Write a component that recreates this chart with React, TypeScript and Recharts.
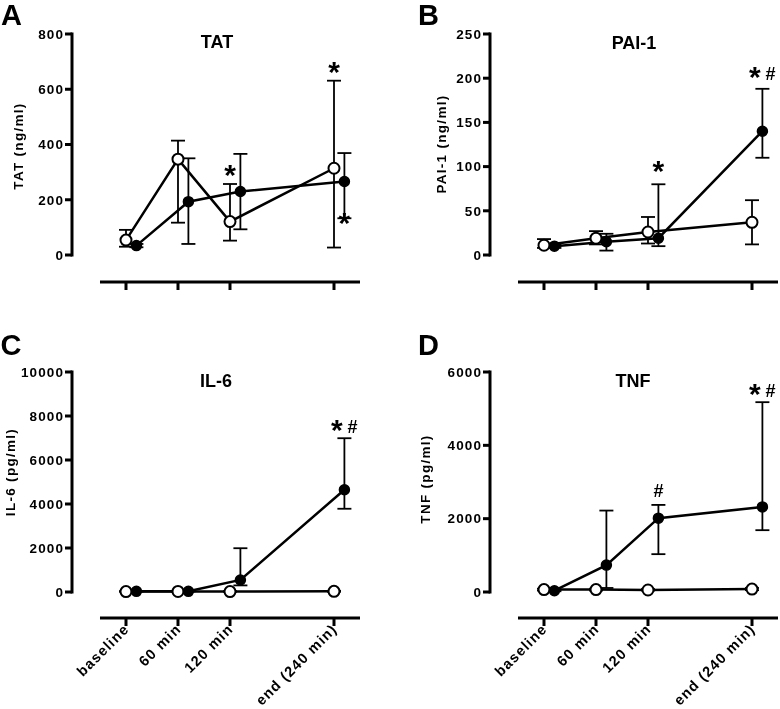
import React from "react"
import { ComposedChart, Line, XAxis, YAxis, ErrorBar, ReferenceLine, ReferenceDot } from "recharts"

const FONT = "'Liberation Sans', Arial, Helvetica, sans-serif"

// time points in minutes, filled symbols are nudged right a little
const timepoints = [0, 60, 120, 240]
const timeLabels = ["baseline", "60 min", "120 min", "end (240 min)"]
const SHIFT = 12

// TAT (ng/ml)
const tatTicks = [0, 200, 400, 600, 800]
const tatOpen = [54, 347, 121, 314]
const tatOpenLo = [30, 117, 52, 27]
const tatOpenHi = [91, 414, 257, 631]
const tatFilled = [34, 193, 230, 266]
const tatFilledLo = [28, 40, 93, 133]
const tatFilledHi = [40, 350, 366, 369]
const tatMarks = [
  { t: 120, side: "open", v: 297, s: "*" },
  { t: 240, side: "open", v: 670, s: "*" },
  { t: 240, side: "filled", v: 123, s: "*" },
]

// PAI-1 (ng/ml)
const paiTicks = [0, 50, 100, 150, 200, 250]
const paiOpen = [11, 19, 26, 37]
const paiOpenLo = [8, 12, 13, 12]
const paiOpenHi = [18, 27, 43, 62]
const paiFilled = [10, 15, 19, 140]
const paiFilledLo = [8, 5, 10, 110]
const paiFilledHi = [12, 24, 80, 188]
const paiMarks = [
  { t: 120, side: "filled", v: 97, s: "*" },
  { t: 240, side: "filled", v: 204, s: "*#" },
]

// IL-6 (pg/ml)
const il6Ticks = [0, 2000, 4000, 6000, 8000, 10000]
const il6Open = [20, 25, 20, 30]
const il6OpenLo = [10, 10, 10, 10]
const il6OpenHi = [40, 40, 40, 50]
const il6Filled = [30, 30, 547, 4650]
const il6FilledLo = [20, 20, 300, 3784]
const il6FilledHi = [50, 60, 1990, 6990]
const il6Marks = [{ t: 240, side: "filled", v: 7462, s: "*#" }]

// TNF (pg/ml)
const tnfTicks = [0, 2000, 4000, 6000]
const tnfOpen = [65, 65, 55, 80]
const tnfOpenLo = [40, 40, 40, 50]
const tnfOpenHi = [90, 90, 80, 110]
const tnfFilled = [35, 733, 2013, 2321]
const tnfFilledLo = [20, 110, 1032, 1686]
const tnfFilledHi = [60, 2221, 2375, 5177]
const tnfMarks = [
  { t: 120, side: "filled", v: 2765, s: "#" },
  { t: 240, side: "filled", v: 5458, s: "*#" },
]

const X_MIN = -62.3
const X_MAX = 270
const X_AXIS_START = -30

const TOP_ROW = { chartTop: 0, height: 330, plotTop: 34, zeroY: 255, axisY: 282 }
const BOTTOM_ROW = { chartTop: 330, height: 379, plotTop: 42, zeroY: 262, axisY: 288 }

const YTick = (props: any) => {
  const { x, y, payload } = props
  return (
    <text x={x} y={y} dy={4.8} textAnchor="end" fontFamily={FONT} fontWeight="bold" fontSize={13.5} letterSpacing={1.1} fill="#000">
      {payload.value}
    </text>
  )
}

const RotTick = (props: any) => {
  const { x, y, payload } = props
  const idx = timepoints.indexOf(payload.value)
  return (
    <g transform={`translate(${x + 4},${y + 2})`}>
      <text textAnchor="end" transform="rotate(-45)" fontFamily={FONT} fontWeight="bold" fontSize={14.5} letterSpacing={1.1} fill="#000">
        {timeLabels[idx]}
      </text>
    </g>
  )
}

const NoTick = () => <g />

function markShape(s: string) {
  return (p: any) => {
    const { cx, cy } = p
    if (s === "*") {
      return (
        <text x={cx} y={cy + 12} textAnchor="middle" fontFamily={FONT} fontWeight="bold" fontSize={30} fill="#000">*</text>
      )
    }
    if (s === "#") {
      return (
        <text x={cx} y={cy + 6} textAnchor="middle" fontFamily={FONT} fontWeight="bold" fontSize={18} fill="#000">#</text>
      )
    }
    return (
      <g>
        <text x={cx - 7.5} y={cy + 12} textAnchor="middle" fontFamily={FONT} fontWeight="bold" fontSize={30} fill="#000">*</text>
        <text x={cx + 8} y={cy + 5} textAnchor="middle" fontFamily={FONT} fontWeight="bold" fontSize={18} fill="#000">#</text>
      </g>
    )
  }
}

function toRows(shift: number, vals: number[], lo: number[], hi: number[]) {
  return timepoints.map((t, i) => ({ t: t + shift, v: vals[i], err: [vals[i] - lo[i], hi[i] - vals[i]] }))
}

function Panel({ cfg, row, left, width, labels }: any) {
  const yMax = cfg.ticks[cfg.ticks.length - 1]
  const yMin = (-yMax * (row.axisY - row.zeroY)) / (row.zeroY - row.plotTop)
  const openData = toRows(0, cfg.open, cfg.openLo, cfg.openHi)
  const filledData = toRows(SHIFT, cfg.filled, cfg.filledLo, cfg.filledHi)
  return (
    <div style={{ position: "absolute", left, top: row.chartTop }}>
      <ComposedChart width={width} height={row.height} margin={{ top: row.plotTop, right: width - 72 - 288, left: 0, bottom: 0 }}>
        <XAxis
          type="number"
          dataKey="t"
          domain={[X_MIN, X_MAX]}
          ticks={timepoints}
          interval={0}
          allowDataOverflow
          axisLine={false}
          tickLine={{ stroke: "#000", strokeWidth: 3 }}
          tickSize={8}
          height={row.height - row.axisY}
          tick={labels ? <RotTick /> : <NoTick />}
        />
        <YAxis
          type="number"
          domain={[yMin, yMax]}
          ticks={cfg.ticks}
          interval={0}
          allowDataOverflow
          axisLine={false}
          tickLine={{ stroke: "#000", strokeWidth: 3 }}
          tickSize={7}
          tickMargin={1}
          width={72}
          tick={<YTick />}
        />
        <ReferenceLine segment={[{ x: X_MIN, y: 0 }, { x: X_MIN, y: yMax }]} stroke="#000" strokeWidth={3} strokeLinecap="square" ifOverflow="visible" />
        <ReferenceLine segment={[{ x: X_AXIS_START, y: yMin }, { x: X_MAX, y: yMin }]} stroke="#000" strokeWidth={3} ifOverflow="visible" />
        <Line
          data={openData}
          dataKey="v"
          stroke="#000"
          strokeWidth={2.5}
          dot={{ r: 5.5, fill: "#fff", stroke: "#000", strokeWidth: 2 }}
          activeDot={false}
          isAnimationActive={false}
        >
          <ErrorBar dataKey="err" direction="y" width={7} stroke="#000" strokeWidth={1.8} isAnimationActive={false} />
        </Line>
        <Line
          data={filledData}
          dataKey="v"
          stroke="#000"
          strokeWidth={2.5}
          dot={{ r: 5, fill: "#000", stroke: "#000", strokeWidth: 1.5 }}
          activeDot={false}
          isAnimationActive={false}
        >
          <ErrorBar dataKey="err" direction="y" width={7} stroke="#000" strokeWidth={1.8} isAnimationActive={false} />
        </Line>
        {cfg.marks.map((m: any, i: number) => (
          <ReferenceDot
            key={i}
            x={m.side === "filled" ? m.t + SHIFT : m.t}
            y={m.v}
            r={0}
            ifOverflow="visible"
            shape={markShape(m.s)}
          />
        ))}
      </ComposedChart>
    </div>
  )
}

const panels = {
  tat: { ticks: tatTicks, open: tatOpen, openLo: tatOpenLo, openHi: tatOpenHi, filled: tatFilled, filledLo: tatFilledLo, filledHi: tatFilledHi, marks: tatMarks },
  pai: { ticks: paiTicks, open: paiOpen, openLo: paiOpenLo, openHi: paiOpenHi, filled: paiFilled, filledLo: paiFilledLo, filledHi: paiFilledHi, marks: paiMarks },
  il6: { ticks: il6Ticks, open: il6Open, openLo: il6OpenLo, openHi: il6OpenHi, filled: il6Filled, filledLo: il6FilledLo, filledHi: il6FilledHi, marks: il6Marks },
  tnf: { ticks: tnfTicks, open: tnfOpen, openLo: tnfOpenLo, openHi: tnfOpenHi, filled: tnfFilled, filledLo: tnfFilledLo, filledHi: tnfFilledHi, marks: tnfMarks },
}

const txt = { fontFamily: FONT, fontWeight: "bold" as const, fill: "#000" }

export default function App() {
  return (
    <div style={{ position: "absolute", left: 0, top: 0, width: 780, height: 709, background: "#fff", overflow: "hidden", filter: "grayscale(1)" }}>
      <Panel cfg={panels.tat} row={TOP_ROW} left={0} width={390} labels={false} />
      <Panel cfg={panels.pai} row={TOP_ROW} left={418} width={362} labels={false} />
      <Panel cfg={panels.il6} row={BOTTOM_ROW} left={0} width={390} labels />
      <Panel cfg={panels.tnf} row={BOTTOM_ROW} left={418} width={362} labels />
      <svg width={780} height={709} style={{ position: "absolute", left: 0, top: 0, pointerEvents: "none" }}>
        <text x={1} y={24.5} fontSize={29} {...txt}>A</text>
        <text x={418} y={24.5} fontSize={29} {...txt}>B</text>
        <text x={0.5} y={355} fontSize={29} {...txt}>C</text>
        <text x={418} y={355} fontSize={29} {...txt}>D</text>

        <text x={217} y={48} fontSize={18} textAnchor="middle" {...txt}>TAT</text>
        <text x={634} y={49} fontSize={18} textAnchor="middle" {...txt}>PAI-1</text>
        <text x={216} y={387} fontSize={18} textAnchor="middle" {...txt}>IL-6</text>
        <text x={633} y={387} fontSize={18} textAnchor="middle" {...txt}>TNF</text>

        <text transform="translate(23,146) rotate(-90)" fontSize={13.5} letterSpacing={1.3} textAnchor="middle" {...txt}>TAT (ng/ml)</text>
        <text transform="translate(446,144) rotate(-90)" fontSize={13.5} letterSpacing={1.3} textAnchor="middle" {...txt}>PAI-1 (ng/ml)</text>
        <text transform="translate(15,472) rotate(-90)" fontSize={13.5} letterSpacing={1.3} textAnchor="middle" {...txt}>IL-6 (pg/ml)</text>
        <text transform="translate(430,479) rotate(-90)" fontSize={13.5} letterSpacing={1.3} textAnchor="middle" {...txt}>TNF (pg/ml)</text>
      </svg>
    </div>
  )
}
